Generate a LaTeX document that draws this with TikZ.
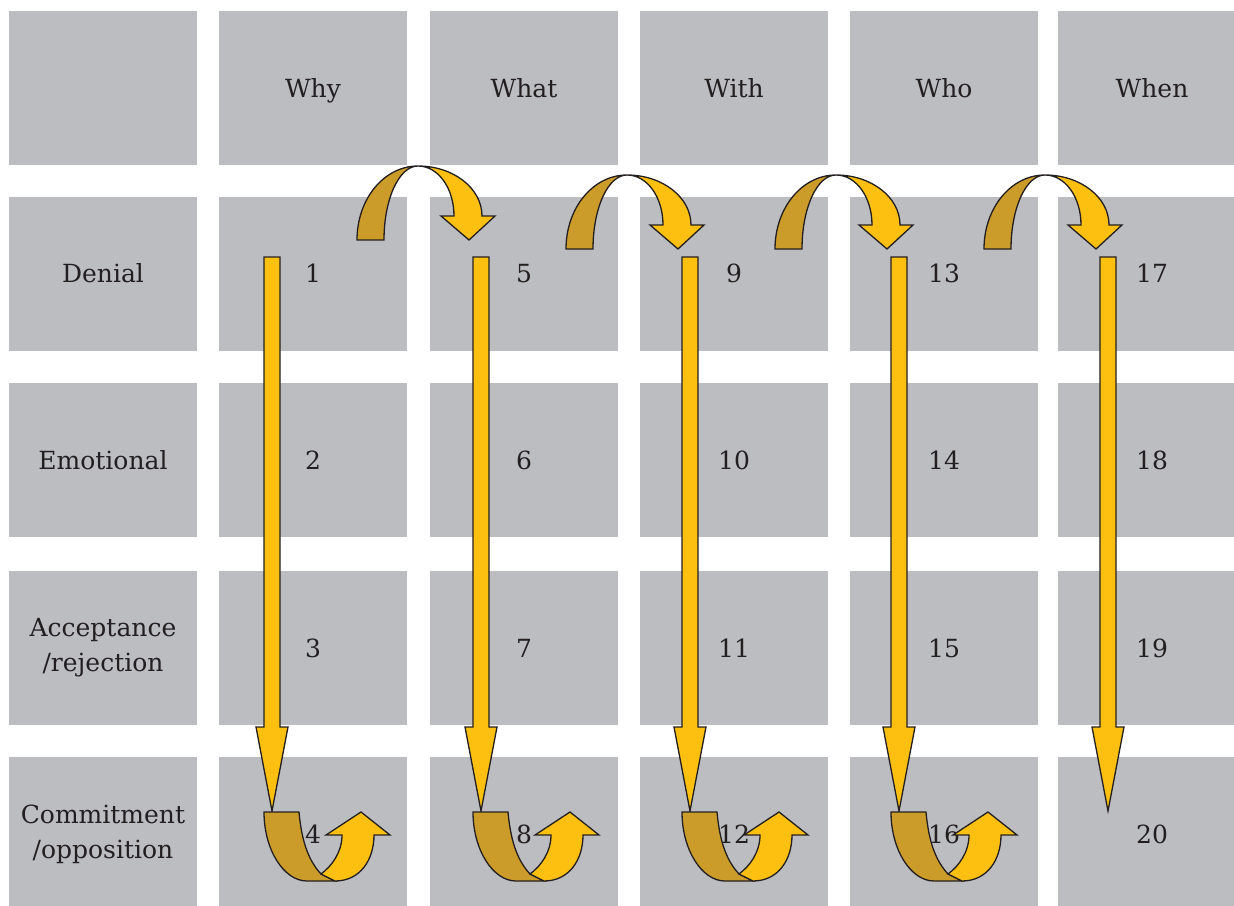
\documentclass[tikz,border=0pt]{standalone}
\usepackage{fontspec}
\setmainfont{DejaVu Serif}
\definecolor{cellgray}{RGB}{188,189,193}
\definecolor{arrowyellow}{RGB}{253,192,16}
\definecolor{arrowgold}{RGB}{204,156,42}
\definecolor{inkdark}{RGB}{35,31,32}
\tikzset{
  cell/.style={fill=cellgray, minimum width=188pt, minimum height=154pt, inner sep=0pt,
    text=inkdark, font=\fontsize{25}{35}\selectfont, align=center},
  oneline/.style={text height=20pt, text depth=2pt},
  front/.style={fill=arrowyellow, draw=inkdark, line width=1.3pt, line join=miter},
  back/.style={fill=arrowgold, draw=inkdark, line width=1.3pt, line join=miter},
}
\begin{document}
\begin{tikzpicture}[x=1pt,y=-1pt]
\useasboundingbox (0,0) rectangle (1234,905);
\clip (0,0) rectangle (1234,905);
% header row
\node[cell] (h0) at (103,88) {};
\node[cell,oneline] (h1) at (313,88) {Why};
\node[cell,oneline] (h2) at (524,88) {What};
\node[cell,oneline] (h3) at (734,88) {With};
\node[cell,oneline] (h4) at (944,88) {Who};
\node[cell,oneline] (h5) at (1152,88) {When};
% row labels
\node[cell,oneline] (l1) at (103,273.5) {Denial};
\node[cell,oneline] (l2) at (103,460) {Emotional};
\node[cell] (l3) at (103,648) {Acceptance\\/rejection};
\node[cell] (l4) at (103,834) {Commitment\\/opposition};
% numbered cells
\foreach \cx [count=\k] in {313,524,734,944,1152} {
  \foreach \cy [count=\j] in {273.5,460,648,834} {
    \pgfmathtruncatemacro\n{4*(\k-1)+\j}
    \node[cell,oneline] (n\n) at (\cx,\cy) {\n};
  }
}
% arcs over the top, from one column to the next
\foreach \cx/\yb in {272/240,481/249,690/249,899/249} {
  \path[back] (\cx+85,\yb) -- (\cx+112,\yb)
    .. controls (\cx+112,\yb-41) and (\cx+127,\yb-74) .. (\cx+146,\yb-74)
    .. controls (\cx+112,\yb-74) and (\cx+85,\yb-41) .. cycle;
  \path[front] (\cx+146,\yb-74)
    .. controls (\cx+181,\yb-74) and (\cx+210,\yb-52) .. (\cx+210,\yb-24)
    -- (\cx+223,\yb-24) -- (\cx+197,\yb) -- (\cx+169,\yb-24) -- (\cx+182,\yb-24)
    .. controls (\cx+182,\yb-52) and (\cx+166,\yb-74) .. cycle;
}
% long downward arrows
\foreach \cx in {272,481,690,899,1108} {
  \path[front] (\cx-8,257) -- (\cx+8,257) -- (\cx+8,727) -- (\cx+16,727)
    -- (\cx,811) -- (\cx-16,727) -- (\cx-8,727) -- cycle;
}
% U-turn arrows at the bottom
\foreach \cx in {272,481,690,899} {
  \path[back] (\cx-8,812) -- (\cx+27,812)
    .. controls (\cx+30,845) and (\cx+38,862) .. (\cx+49,874)
    -- (\cx+63,881) -- (\cx+35,881)
    .. controls (\cx+12,881) and (\cx-8,850) .. cycle;
  \path[front] (\cx+49,874) -- (\cx+63,881)
    .. controls (\cx+88,881) and (\cx+102,860) .. (\cx+102,835)
    -- (\cx+118,835) -- (\cx+89,812) -- (\cx+54,835) -- (\cx+70,835)
    .. controls (\cx+70,852) and (\cx+60,866) .. cycle;
}
\end{tikzpicture}
\end{document}
